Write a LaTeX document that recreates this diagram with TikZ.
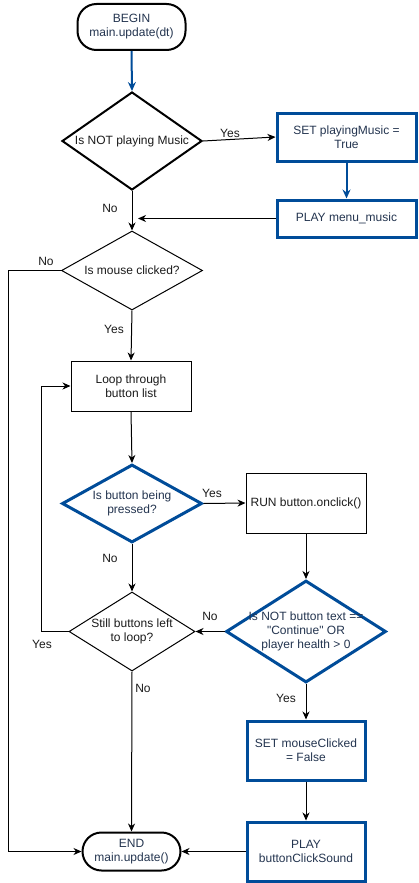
\documentclass[tikz,border=0pt]{standalone}
\usepackage{fontspec}
\setmainfont{Liberation Sans}[Ligatures=TeXOff]
\usetikzlibrary{shapes.geometric,arrows.meta}
\definecolor{bblue}{HTML}{004C99}
\definecolor{navy}{HTML}{23344F}
\definecolor{lbl}{HTML}{1A1A1A}
\tikzset{
  every node/.style={font=\fontsize{12}{14}\selectfont, align=center},
  term/.style={draw=black, line width=2pt, rounded corners=19pt, text=navy, inner sep=0pt},
  proc/.style={draw=black, line width=1pt, text=lbl, inner sep=0pt},
  bproc/.style={draw=bblue, line width=3pt, text=navy, inner sep=0pt},
  dec/.style={diamond, draw=black, line width=1pt, inner sep=0pt, aspect=1.5},
  bdec/.style={diamond, draw=bblue, line width=3pt, inner sep=0pt, aspect=1.5},
  kdec/.style={diamond, draw=black, line width=2pt, inner sep=0pt, aspect=1.5},
  conn/.style={draw=black, line width=1pt, -{Stealth[length=8pt,width=7pt,inset=2.5pt]}},
  bconn/.style={draw=bblue, line width=2pt, -{Stealth[length=9pt,width=8pt,inset=3pt]}},
  lab/.style={text=lbl, inner sep=0pt},
}
\begin{document}
\begin{tikzpicture}[x=1pt,y=-1pt]
\useasboundingbox (0,0) rectangle (418,883);
% nodes
\node[term, minimum width=108pt, minimum height=46pt] (begin) at (131.5,27) {BEGIN\\main.update(dt)};
\node[kdec, minimum width=140pt, minimum height=98pt,
  label={[text=lbl]center:Is NOT playing Music}] (d1) at (132,141) {};
\node[bproc, minimum width=139pt, minimum height=48pt] (setpm) at (346.5,137) {SET playingMusic =\\True};
\node[bproc, minimum width=139pt, minimum height=37pt] (playmm) at (346.5,218.5) {PLAY menu\_music};
\node[dec, minimum width=141pt, minimum height=79pt,
  label={[text=lbl]center:Is mouse clicked?}] (d2) at (132,270.5) {};
\node[proc, minimum width=120pt, minimum height=50pt] (loop) at (131,386) {Loop through\\button list};
\node[bdec, minimum width=140pt, minimum height=78pt,
  label={[text=navy,align=center]center:Is button being\\pressed?}] (d3) at (132,503.5) {};
\node[proc, minimum width=120pt, minimum height=60pt] (run) at (306,503) {RUN button.onclick()};
\node[bdec, minimum width=160pt, minimum height=102pt,
  label={[text=navy,align=center]center:Is NOT button text ==\\"Continue" OR\\player health > 0}] (d4) at (306,631.5) {};
\node[dec, minimum width=126pt, minimum height=79pt,
  label={[text=lbl,align=center]center:Still buttons left\\to loop?}] (d5) at (132,631.5) {};
\node[bproc, minimum width=118pt, minimum height=59pt] (setmc) at (306,750.5) {SET mouseClicked\\= False};
\node[bproc, minimum width=118pt, minimum height=59pt] (playbc) at (306,851.5) {PLAY\\buttonClickSound};
\node[term, minimum width=98pt, minimum height=38pt] (end) at (131.5,851.5) {END\\main.update()};
% helper coordinates
\coordinate (j1) at (138,218.5);
\coordinate (c1) at (8,270.5);
\coordinate (c2) at (8,851.5);
\coordinate (c3) at (41,631.5);
\coordinate (c4) at (41,386);
% connectors
\draw[bconn] (begin.south) -- (d1.north);
\draw[conn] (d1.east) -- (setpm.west);
\draw[bconn] (setpm.south) -- (playmm.north);
\draw[conn] (playmm.west) -- (j1);
\draw[conn] (d1.south) -- (d2.north);
\draw[conn] (d2.west) -- (c1) -- (c2) -- (end.west);
\draw[conn] (d2.south) -- (loop.north);
\draw[conn] (loop.south) -- (d3.north);
\draw[conn] (d3.east) -- (run.west);
\draw[conn] (run.south) -- (d4.north);
\draw[conn] (d4.west) -- (d5.east);
\draw[conn] (d5.west) -- (c3) -- (c4) -- (loop.west);
\draw[conn] (d3.south) -- (d5.north);
\draw[conn] (d5.south) -- (end.north);
\draw[conn] (d4.south) -- (setmc.north);
\draw[conn] (setmc.south) -- (playbc.north);
\draw[conn] (playbc.west) -- (end.east);
% labels
\node[lab] (l1) at (230,133) {Yes};
\node[lab] (l2) at (110,208) {No};
\node[lab] (l3) at (46,261) {No};
\node[lab] (l4) at (114,329) {Yes};
\node[lab] (l5) at (212,493) {Yes};
\node[lab] (l6) at (110,558) {No};
\node[lab] (l7) at (210,616) {No};
\node[lab] (l8) at (42,644) {Yes};
\node[lab] (l9) at (143,688) {No};
\node[lab] (l10) at (286,698) {Yes};
\end{tikzpicture}
\end{document}
